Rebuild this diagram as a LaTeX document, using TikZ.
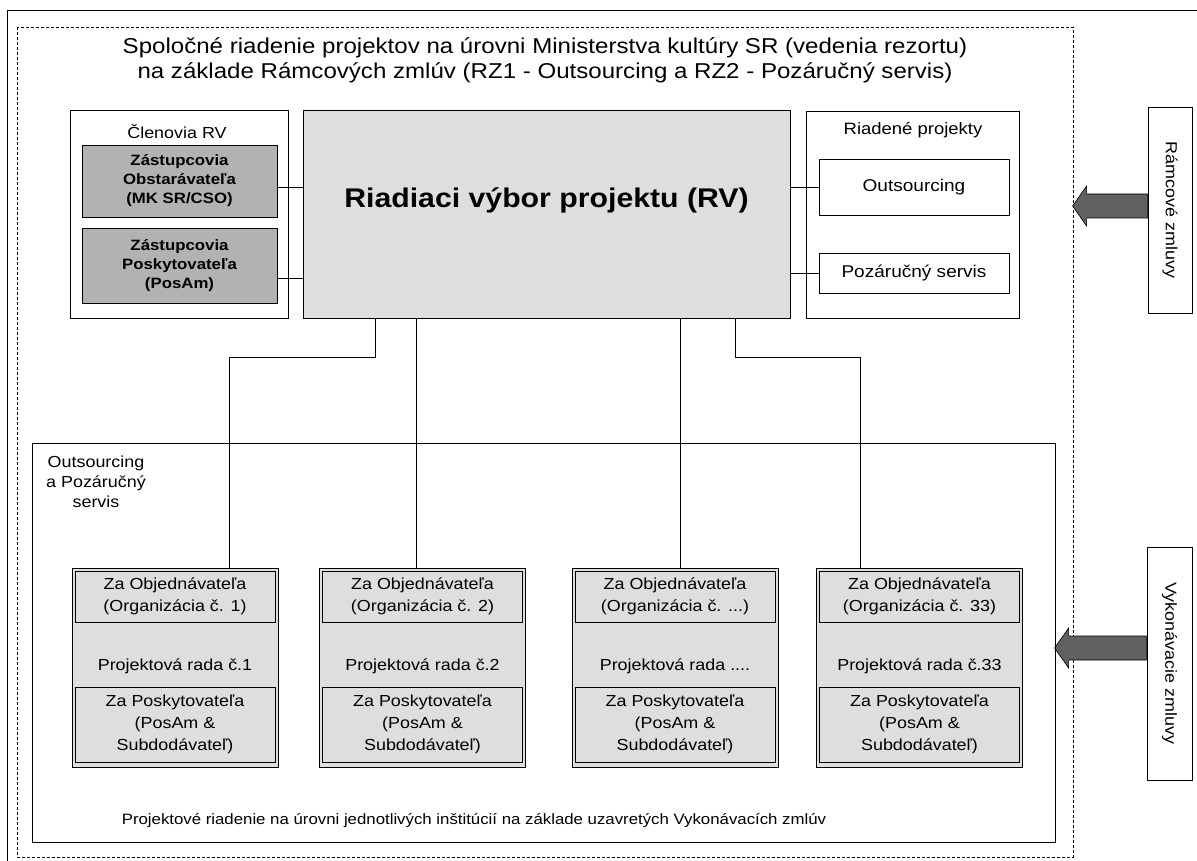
\documentclass[tikz,border=0pt]{standalone}
\usepackage{fontspec}
\setmainfont[FakeStretch=1.12]{Liberation Sans}
\newcommand\fs[2]{\fontsize{#1}{#2}\selectfont}
\begin{document}
\begin{tikzpicture}[x=1pt,y=-1pt,line width=0.8pt,
  box/.style={draw, align=center, inner sep=0pt},
  light/.style={fill=black!13},
  dark/.style={fill=black!30},
  frame/.style={draw, line width=0.7pt},
  conn/.style={draw, line width=0.8pt},
  barrow/.style={draw, fill=black!62, line width=0.6pt}]
\useasboundingbox (0,0) rectangle (1197,861);
\begin{scope}
\clip (0,0) rectangle (1197,861);
\draw[frame] (7,10) rectangle (1210,875);
\end{scope}
\draw[frame, densely dashed] (17,27) rectangle (1073,857);

\node[font=\fs{21.5}{25}, align=center] (title) at (545,60) {Spoločné riadenie projektov na úrovni Ministerstva kultúry SR (vedenia rezortu)\\na základe Rámcových zmlúv (RZ1 - Outsourcing a RZ2 - Pozáručný servis)};

% members
\node[box, minimum width=218pt, minimum height=208pt] (members) at (179,214) {};
\node[font=\fs{16}{19}] (membersT) at (177,132) {Členovia RV};
\node[box, dark, minimum width=195pt, minimum height=72pt, font=\bfseries\fs{15}{19}] (z1) at (179.5,181) {Zástupcovia\\Obstarávateľa\\(MK SR/CSO)};
\node[box, dark, minimum width=195pt, minimum height=75pt, font=\bfseries\fs{15}{19}] (z2) at (179.5,265.5) {Zástupcovia\\Poskytovateľa\\(PosAm)};

% main
\node[box, light, minimum width=487pt, minimum height=208pt] (main) at (546.5,214) {};
\node[font=\bfseries\fs{27}{30}] (mainT) at (546.5,200) {Riadiaci výbor projektu (RV)};

% managed projects
\node[box, minimum width=213pt, minimum height=207pt] (rp) at (912.5,214.5) {};
\node[font=\fs{16.5}{19}] (rpT) at (913,130) {Riadené projekty};
\node[box, minimum width=190pt, minimum height=56pt, font=\fs{17}{20}] (out) at (914,187) {Outsourcing};
\node[box, minimum width=190pt, minimum height=40pt, font=\fs{17}{20}] (poz) at (914,273) {Pozáručný servis};

\coordinate (z1c) at ([yshift=-6pt]z1.east);
\coordinate (z2c) at ([yshift=-12.5pt]z2.east);
\draw[conn] (z1c) -- (z1c -| main.west);
\draw[conn] (z2c) -- (z2c -| main.west);
\draw[conn] (out.west) -- (out.west -| main.east);
\draw[conn] (poz.west) -- (poz.west -| main.east);

% right side contract boxes
\node[box, minimum width=44pt, minimum height=206pt] (rz) at (1170,210) {};
\node[rotate=-90, font=\fs{16}{19}] (rzT) at (rz.center) {Rámcové zmluvy};
\node[box, minimum width=45pt, minimum height=233pt] (vz) at (1169.5,663.5) {};
\node[rotate=-90, font=\fs{16}{19}] (vzT) at (vz.center) {Vykonávacie zmluvy};

\coordinate (a1) at ([yshift=4pt]rz.west);
\filldraw[barrow] (a1) ++(0,-12) -- ++(-61,0) -- ++(0,-8) -- ++(-14,20) -- ++(14,20) -- ++(0,-8) -- ++(61,0) -- cycle;
\coordinate (a2) at ([yshift=15.5pt]vz.west);
\filldraw[barrow] (a2) ++(0,-12) -- ++(-78,0) -- ++(0,-8) -- ++(-14,20) -- ++(14,20) -- ++(0,-8) -- ++(78,0) -- cycle;

% lower box
\node[box, minimum width=1023pt, minimum height=399pt] (low) at (543.5,642.5) {};
\node[font=\fs{16}{20}, align=center] (lowT) at (96,482) {Outsourcing\\a Pozáručný\\servis};
\node[font=\fs{15}{19}] (lowB) at (474,821) {Projektové riadenie na úrovni jednotlivých inštitúcií na základe uzavretých Vykonávacích zmlúv};

\foreach \n/\cx/\org/\rada in {1/175/1/č.1, 2/422.5/2/č.2, 3/675/{...}/{....}, 4/919.5/33/č.33}{
  \node[box, light, minimum width=206pt, minimum height=199pt] (c\n) at (\cx,667.5) {};
  \node[box, light, minimum width=200pt, minimum height=51pt, font=\fs{16}{22}] (c\n a) at (\cx,596.5) {Za Objednávateľa\\(Organizácia č. \org)};
  \node[font=\fs{16}{19}] (c\n r) at (\cx,666) {Projektová rada \rada};
  \node[box, light, minimum width=200pt, minimum height=75pt, font=\fs{16}{22}] (c\n b) at (\cx,724.5) {Za Poskytovateľa\\(PosAm \&\\Subdodávateľ)};
}

% connectors from main to columns
\coordinate (k1) at (375,357);
\coordinate (k1b) at (229,357);
\coordinate (k2) at (416,357);
\coordinate (k3) at (680,357);
\coordinate (k4) at (735,357);
\coordinate (k4b) at (860,357);
\draw[conn] (main.south -| k1) -- (k1) -- (k1b) -- (k1b |- c1.north);
\draw[conn] (main.south -| k2) -- (k2 |- c2.north);
\draw[conn] (main.south -| k3) -- (k3 |- c3.north);
\draw[conn] (main.south -| k4) -- (k4) -- (k4b) -- (k4b |- c4.north);
\end{tikzpicture}
\end{document}
